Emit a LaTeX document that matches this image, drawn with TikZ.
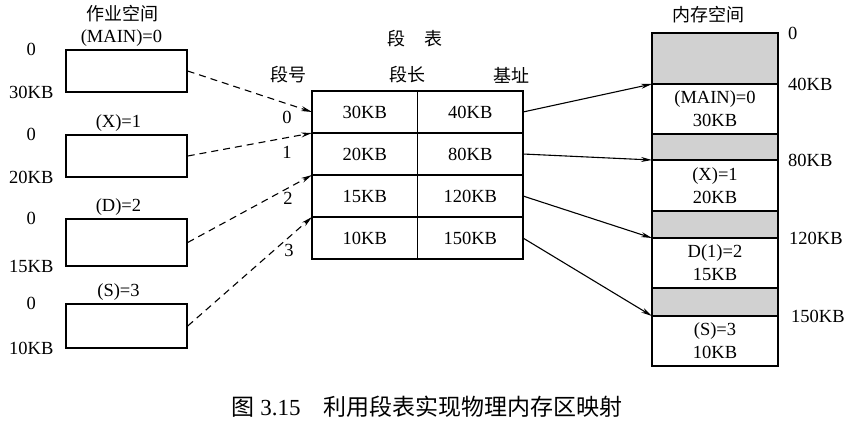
\documentclass[tikz,border=0pt]{standalone}
\usepackage{fontspec}
\setmainfont{Liberation Serif}
\newfontfamily\cjk{Noto Sans CJK SC}
\usetikzlibrary{arrows.meta,positioning}
\tikzset{
    % Segments of the job space (left)
    jobseg/.style={
        draw,
        line width=1.4pt,
        minimum width=121pt,
        inner sep=0pt,
    },
    % Cells of the segment table
    cell/.style={
        draw,
        line width=1.4pt,
        minimum width=105.5pt,
        minimum height=42pt,
        inner sep=0pt,
        outer sep=0pt,
        font=\fontsize{18.5}{20}\selectfont,
    },
    % Blocks of the memory space (right)
    memseg/.style={
        draw,
        line width=1.4pt,
        minimum width=126pt,
        inner sep=0pt,
        outer sep=0pt,
        align=center,
        font=\fontsize{18.5}{23}\selectfont,
    },
    freeseg/.style={
        memseg,
        fill=black!18,
    },
    % Text styles
    cn/.style={font=\cjk\fontsize{18}{20}\selectfont, inner sep=1pt},
    txt/.style={font=\fontsize{18.5}{20}\selectfont, inner sep=1pt},
    % Arrows
    maparrow/.style={
        -{Stealth[length=11pt, width=5pt]},
        line width=1.1pt,
    },
    lookup/.style={
        maparrow,
        dash pattern=on 7pt off 5pt,
    },
}

\begin{document}
\begin{tikzpicture}[x=1pt, y=-1pt]
    \useasboundingbox (0,0) rectangle (850,426);

    % job space
    \node (jobtitle) [cn] at (122,14) {作业空间};
    \node (job0) [jobseg, minimum height=42pt] at (126.5,71) {};
    \node (job1) [jobseg, minimum height=42pt] at (126.5,156) {};
    \node (job2) [jobseg, minimum height=47pt] at (126.5,242.5) {};
    \node (job3) [jobseg, minimum height=44pt] at (126.5,326) {};

    \node (name0) [txt, above=2pt of job0, xshift=-5pt] {(MAIN)=0};
    \node (name1) [txt, above=2pt of job1, xshift=-8pt] {(X)=1};
    \node (name2) [txt, above=2pt of job2, xshift=-8pt] {(D)=2};
    \node (name3) [txt, above=2pt of job3, xshift=-8pt] {(S)=3};

    \node (start0) [txt] at ([xshift=-34pt]job0.north west) {0};
    \node (size0) [txt] at ([xshift=-34pt]job0.south west) {30KB};
    \node (start1) [txt] at ([xshift=-34pt]job1.north west) {0};
    \node (size1) [txt] at ([xshift=-34pt]job1.south west) {20KB};
    \node (start2) [txt] at ([xshift=-34pt]job2.north west) {0};
    \node (size2) [txt] at ([xshift=-34pt]job2.south west) {15KB};
    \node (start3) [txt] at ([xshift=-34pt]job3.north west) {0};
    \node (size3) [txt] at ([xshift=-34pt]job3.south west) {10KB};

    % segment table
    \node (tabtitle) [cn] at (415,39) {段\hspace{1.1em}表};
    \node (hnum) [cn] at (288,75) {段号};
    \node (hlen) [cn] at (407,75) {段长};
    \node (hbase) [cn] at (511,75) {基址};

    \node (len0) [cell, anchor=north west] at (312,91) {30KB};
    \node (len1) [cell, below=0pt of len0] {20KB};
    \node (len2) [cell, below=0pt of len1] {15KB};
    \node (len3) [cell, below=0pt of len2] {10KB};
    \node (base0) [cell, right=0pt of len0] {40KB};
    \node (base1) [cell, right=0pt of len1] {80KB};
    \node (base2) [cell, right=0pt of len2] {120KB};
    \node (base3) [cell, right=0pt of len3] {150KB};

    \node (num0) [txt] at (287,117) {0};
    \node (num1) [txt] at (287,152) {1};
    \node (num2) [txt] at (288,198) {2};
    \node (num3) [txt] at (289,250) {3};

    % memory space
    \node (memtitle) [cn] at (708,15) {内存空间};
    \node (free0) [freeseg, minimum height=51pt, anchor=north west] at (652,33) {};
    \node (seg0) [memseg, minimum height=50pt, below=0pt of free0] {(MAIN)=0\\30KB};
    \node (free1) [freeseg, minimum height=26pt, below=0pt of seg0] {};
    \node (seg1) [memseg, minimum height=51pt, below=0pt of free1] {(X)=1\\20KB};
    \node (free2) [freeseg, minimum height=27pt, below=0pt of seg1] {};
    \node (seg2) [memseg, minimum height=50pt, below=0pt of free2] {D(1)=2\\15KB};
    \node (free3) [freeseg, minimum height=28pt, below=0pt of seg2] {};
    \node (seg3) [memseg, minimum height=50pt, below=0pt of free3] {(S)=3\\10KB};

    \node (addr0) [txt, anchor=west] at ([xshift=9pt]free0.north east) {0};
    \node (addr1) [txt, anchor=west] at ([xshift=9pt]seg0.north east) {40KB};
    \node (addr2) [txt, anchor=west] at ([xshift=9pt]seg1.north east) {80KB};
    \node (addr3) [txt, anchor=west] at ([xshift=10pt]seg2.north east) {120KB};
    \node (addr4) [txt, anchor=west] at ([xshift=12pt]seg3.north east) {150KB};

    % caption
    \node (caption) [font=\fontsize{23}{26}\selectfont] at (427,407)
        {{\cjk 图} 3.15\hspace{1em}{\cjk 利用段表实现物理内存区映射}};

    \draw [lookup] (job0.east) -- (len0.west);
    \draw [lookup] (job1.east) -- (len1.north west);
    \draw [lookup] (job2.east) -- (len2.north west);
    \draw [lookup] (job3.east) -- (len3.north west);

    \draw [maparrow] (base0.east) -- (seg0.north west);
    \draw [maparrow] (base1.east) -- (seg1.north west);
    \draw [maparrow] (base2.east) -- (seg2.north west);
    \draw [maparrow] (base3.east) -- (seg3.north west);
\end{tikzpicture}
\end{document}
